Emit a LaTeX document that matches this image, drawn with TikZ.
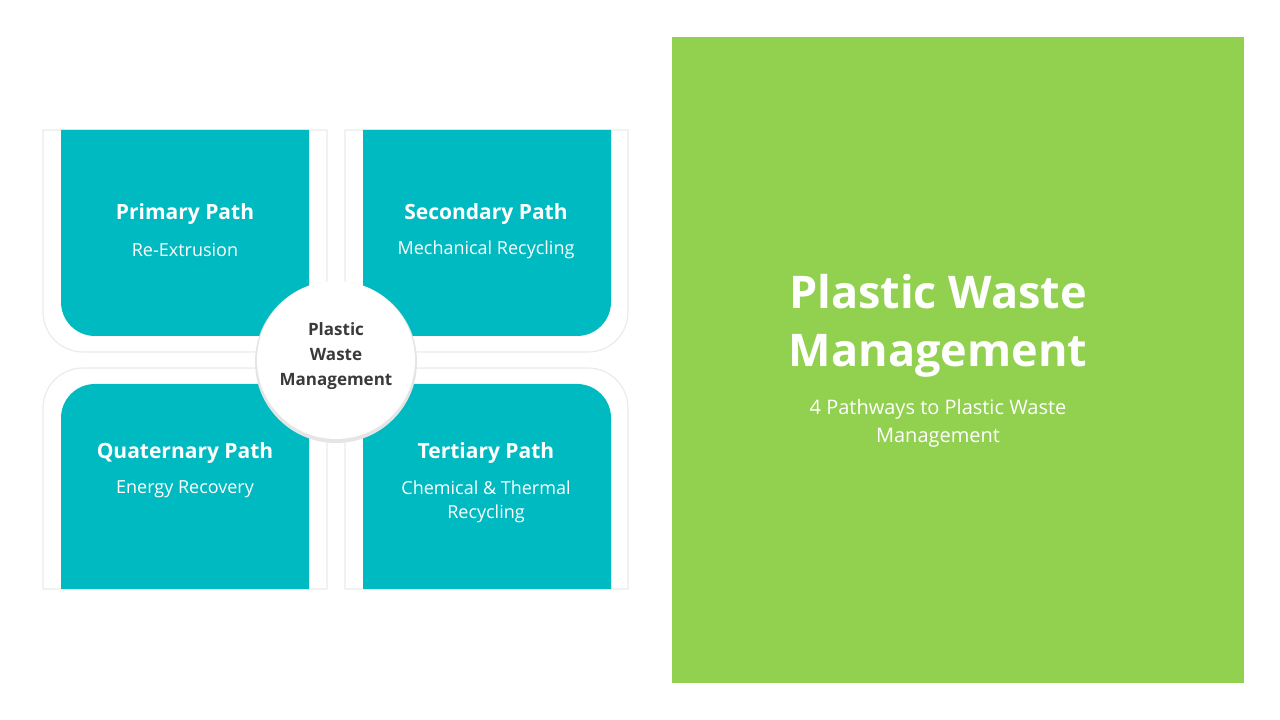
\documentclass[tikz,border=0pt]{standalone}
\usepackage{fontspec}
\setmainfont{Open Sans}
\definecolor{teal1}{HTML}{00BAC1}
\definecolor{green1}{HTML}{92D050}
\definecolor{dark}{HTML}{3A3A3A}
\tikzset{
 panel/.style={fill=white,draw=black!8,line width=1.2pt},
 tealbox/.style={fill=teal1},
 ttl/.style={text=white,font=\fontsize{21}{25}\selectfont\bfseries,align=center},
 sub/.style={text=white,font=\fontsize{18}{24}\selectfont,align=center},
}
\begin{document}
\begin{tikzpicture}[x=1pt,y=1pt]
\useasboundingbox (0,0) rectangle (1280,720);
% top-left
\draw[panel] (327,590) -- (327,368) -- (83,368) arc (270:180:40) -- (43,590) -- cycle;
\fill[tealbox] (309,590) -- (309,384) -- (95,384) arc (270:180:34) -- (61,590) -- cycle;
% top-right
\draw[panel] (345,590) -- (345,368) -- (588,368) arc (270:360:40) -- (628,590) -- cycle;
\fill[tealbox] (363,590) -- (363,384) -- (577,384) arc (270:360:34) -- (611,590) -- cycle;
% bottom-left
\draw[panel] (327,131) -- (327,352) -- (83,352) arc (90:180:40) -- (43,131) -- cycle;
\fill[tealbox] (309,131) -- (309,336) -- (95,336) arc (90:180:34) -- (61,131) -- cycle;
% bottom-right
\draw[panel] (345,131) -- (345,352) -- (588,352) arc (90:0:40) -- (628,131) -- cycle;
\fill[tealbox] (363,131) -- (363,336) -- (577,336) arc (90:0:34) -- (611,131) -- cycle;
\node[ttl] (t1) at (185,506) {Primary Path};
\node[sub] (s1) at (185,470) {Re-Extrusion};
\node[ttl] (t2) at (486,506) {Secondary Path};
\node[sub] (s2) at (486,470) {Mechanical Recycling};
\node[ttl] (t3) at (185,267) {Quaternary Path};
\node[sub] (s3) at (185,231) {Energy Recovery};
\node[ttl] (t4) at (486,267) {Tertiary Path};
\node[sub,anchor=north] (s4) at (486,243) {Chemical \& Thermal\\Recycling};
% center
\fill[black!10] (336,358) circle (81);
\node[circle,fill=white,minimum size=158pt,inner sep=0pt] (c) at (336,360) {};
\node[text=dark,font=\fontsize{17}{25}\selectfont\bfseries,align=center] (ct) at (336,364) {Plastic\\Waste\\Management};
% green
\fill[green1] (672,37) rectangle (1244,683);
\node[text=white,font=\fontsize{45}{58}\selectfont\bfseries,align=center] (g1) at (938,394) {Plastic Waste\\Management};
\node[text=white,font=\fontsize{20}{28}\selectfont,align=center] (g2) at (938,297) {4 Pathways to Plastic Waste\\Management};
\end{tikzpicture}
\end{document}
